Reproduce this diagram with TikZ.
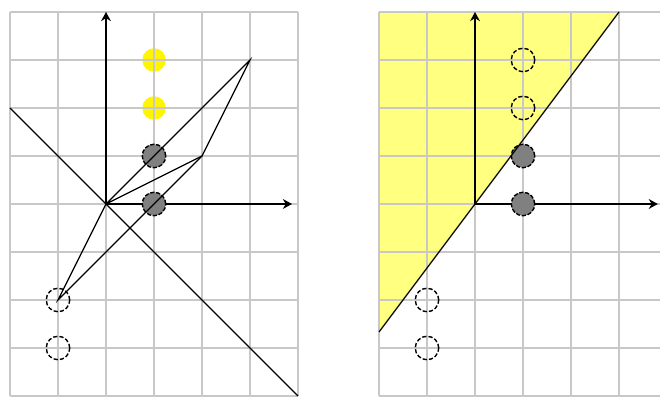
\documentclass[tikz,border=0pt]{standalone}
\usetikzlibrary{arrows.meta}
\definecolor{gridgray}{RGB}{200,200,200}
\definecolor{ptyellow}{RGB}{255,245,0}
\definecolor{regyellow}{RGB}{255,255,128}
\definecolor{ptgray}{RGB}{128,128,128}
\begin{document}
\begin{tikzpicture}[
  x=0.48cm, y=0.48cm,
  gridline/.style={draw=gridgray, line width=0.55pt},
  axis/.style={draw=black, line width=0.5pt, -{Stealth[length=2.6pt,width=2.8pt]}},
  seg/.style={draw=black, line width=0.35pt},
  ypt/.style={circle, fill=ptyellow, inner sep=0pt, minimum size=2.35mm},
  gpt/.style={circle, draw=black, dash pattern=on 1.2pt off 0.5pt, line width=0.4pt, fill=ptgray, inner sep=0pt, minimum size=2.35mm},
  hpt/.style={circle, draw=black, dash pattern=on 1.2pt off 0.6pt, line width=0.4pt, inner sep=0pt, minimum size=2.35mm}
]
  \useasboundingbox (-2.2083,-4.0208) rectangle (11.5417,4.25);

  % Panel izquierdo
  \node[ypt] (y1) at (1,3) {};
  \node[ypt] (y2) at (1,2) {};
  \foreach \i in {-2,...,4} \draw[gridline] (\i,-4) -- (\i,4);
  \foreach \j in {-4,...,4} \draw[gridline] (-2,\j) -- (4,\j);

  \coordinate (O) at (0,0);
  \coordinate (xt) at (3.875,0);
  \coordinate (yt) at (0,4);
  \draw[axis] (O) -- (xt);
  \draw[axis] (O) -- (yt);

  \node[hpt] (h1) at (-1,-2) {};
  \node[hpt] (h2) at (-1,-3) {};
  \node[gpt] (g1) at (1,1) {};
  \node[gpt] (g2) at (1,0) {};

  \coordinate (A) at (3,3);
  \coordinate (B) at (2,1);
  \coordinate (d1) at (-2,2);
  \coordinate (d2) at (4,-4);
  \draw[seg] (O) -- (A) -- (B) -- (O);
  \draw[seg] (B) -- (h1.center) -- (O);
  \draw[seg] (d1) -- (d2);

  % Panel derecho
  \begin{scope}[shift={(7.6875,0)}]
    \coordinate (rl) at (-2,-2.6667);
    \coordinate (rt) at (3,4);
    \fill[regyellow] (rl) -- (-2,4) -- (rt) -- (0,0) -- cycle;
    \foreach \i in {-2,...,3} \draw[gridline] (\i,-4) -- (\i,4);
    \foreach \j in {-4,...,4} \draw[gridline] (-2,\j) -- (3.86,\j);

    \coordinate (rO) at (0,0);
    \coordinate (rxt) at (3.81,0);
    \coordinate (ryt) at (0,4);
    \draw[axis] (rO) -- (rxt);
    \draw[axis] (rO) -- (ryt);

    \node[hpt] (rh1) at (1,3) {};
    \node[hpt] (rh2) at (1,2) {};
    \node[hpt] (rh3) at (-1,-2) {};
    \node[hpt] (rh4) at (-1,-3) {};
    \node[gpt] (rg1) at (1,1) {};
    \node[gpt] (rg2) at (1,0) {};

    \draw[seg] (rl) -- (rt);
  \end{scope}
\end{tikzpicture}
\end{document}
